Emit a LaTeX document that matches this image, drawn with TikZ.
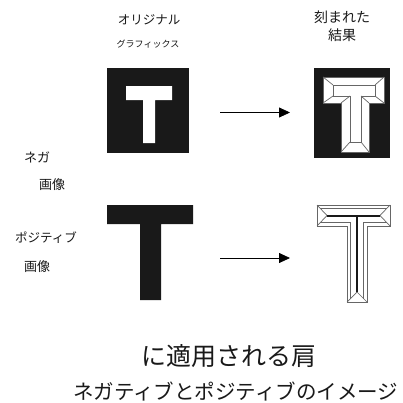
\documentclass[tikz,border=0pt]{standalone}
\usepackage{fontspec}
\setmainfont{Noto Sans CJK JP}
\usetikzlibrary{arrows.meta}
\newcommand{\fs}[1]{\fontsize{#1pt}{#1pt}\selectfont}
\tikzset{
  lbl/.style={inner sep=0pt, text=black!90},
  flow/.style={-{Triangle[length=11pt,width=10pt]}, line width=0.8pt, black},
  bevel/.style={draw=black!60, line width=0.7pt},
  ridge/.style={draw=black!90, line width=2pt},
}
\begin{document}
\begin{tikzpicture}[x=1pt,y=-1pt]
\useasboundingbox[fill=white] (0,0) rectangle (403,402);

% column headings
\node[lbl] (hOrig) at (149,20) {\fs{12.5}オリジナル};
\node[lbl] (hOrigSub) at (148,44) {\fs{9}グラフィックス};
\node[lbl] (hCarved) at (342,17) {\fs{14}刻まれた};
\node[lbl] (hCarvedSub) at (342,35) {\fs{14}結果};

% row labels
\node[lbl] (lNeg) at (37,157) {\fs{13}ネガ};
\node[lbl] (lNegImg) at (52,185) {\fs{13}画像};
\node[lbl] (lPos) at (46,238) {\fs{12.5}ポジティブ};
\node[lbl] (lPosImg) at (37,267) {\fs{13}画像};

% negative original: white T on black
\fill[black!90] (107,68) rectangle (189,153);
\fill[white] (126,86) -- (172,86) -- (172,100) -- (155,100) -- (155,143)
  -- (143,143) -- (143,100) -- (126,100) -- cycle;
\node[inner sep=0pt, minimum width=82pt, minimum height=85pt] (negOrig) at (148,110.5) {};

% negative carved: bevelled white T on black
\fill[black!90] (314,68) rectangle (390,158);
\node[inner sep=0pt, minimum width=76pt, minimum height=90pt] (negCarv) at (352,113) {};
\filldraw[fill=white, bevel] (323,77) -- (384,77) -- (384,103) -- (369,103) -- (369,152)
  -- (341,152) -- (341,103) -- (323,103) -- cycle;
\draw[bevel] (333,85) -- (375,85) -- (375,96) -- (361,96) -- (361,142)
  -- (350,142) -- (350,96) -- (333,96) -- cycle;
\draw[bevel] (323,77) -- (333,85) (384,77) -- (375,85)
  (384,103) -- (375,96) (323,103) -- (333,96)
  (369,103) -- (361,96) (341,103) -- (350,96)
  (369,152) -- (361,142) (341,152) -- (350,142);

% positive original: black T
\fill[black!90] (107,205) -- (193,205) -- (193,224) -- (161,224) -- (161,300)
  -- (140,300) -- (140,224) -- (107,224) -- cycle;
\node[inner sep=0pt, minimum width=86pt, minimum height=95pt] (posOrig) at (150,252.5) {};

% positive carved: V-groove T
\node[inner sep=0pt, minimum width=73pt, minimum height=97pt] (posCarv) at (353.5,253.5) {};
\draw[bevel] (317,205) -- (390,205) -- (390,226) -- (367,226) -- (367,302)
  -- (347,302) -- (347,226) -- (317,226) -- cycle;
\draw[bevel] (320.3,208.5) -- (386.7,208.5);
\draw[bevel] (320.3,222.5) -- (350.5,222.5) -- (350.5,298.5);
\draw[bevel] (386.7,222.5) -- (363.5,222.5) -- (363.5,298.5);
\draw[bevel] (317,205) -- (327,215.5) -- (317,226);
\draw[bevel] (390,205) -- (380,215.5) -- (390,226);
\draw[bevel] (347,302) -- (357,292) -- (367,302);
\draw[ridge] (327,215.5) -- (380,215.5) (357,215.5) -- (357,292);

% arrows between columns
\coordinate (a1s) at (220,112.5);
\coordinate (a1e) at (290,112.5);
\coordinate (a2s) at (220,258);
\coordinate (a2e) at (290,258);
\draw[flow] (a1s) -- (a1e);
\draw[flow] (a2s) -- (a2e);

% caption
\node[lbl] (cap1) at (228.5,356) {\fs{25}に適用される肩};
\node[lbl, anchor=west] (cap2) at (73,392) {\fs{20.5}ネガティブとポジティブのイメージ};
\end{tikzpicture}
\end{document}
